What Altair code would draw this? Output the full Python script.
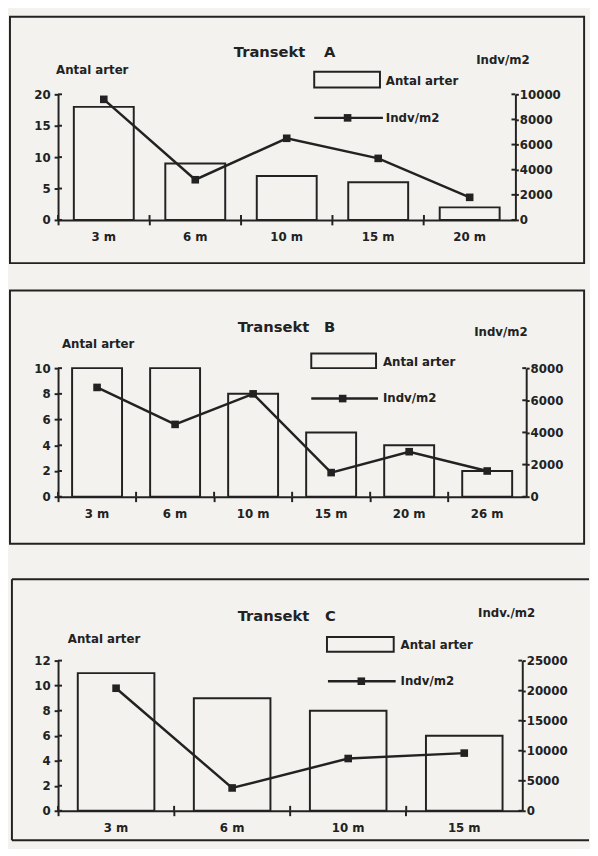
import altair as alt
import pandas as pd

# ---- data ----
cats_a = ["3 m", "6 m", "10 m", "15 m", "20 m"]
arter_a = [18, 9, 7, 6, 2]
indv_a = [9600, 3200, 6500, 4900, 1800]

cats_b = ["3 m", "6 m", "10 m", "15 m", "20 m", "26 m"]
arter_b = [10, 10, 8, 5, 4, 2]
indv_b = [6800, 4500, 6400, 1500, 2800, 1600]

cats_c = ["3 m", "6 m", "10 m", "15 m"]
arter_c = [11, 9, 8, 6]
indv_c = [20400, 3800, 8700, 9600]

# axis tick values
ticks_l_a = [0, 5, 10, 15, 20]
ticks_r_a = [0, 2000, 4000, 6000, 8000, 10000]
ticks_l_b = [0, 2, 4, 6, 8, 10]
ticks_r_b = [0, 2000, 4000, 6000, 8000]
ticks_l_c = [0, 2, 4, 6, 8, 10, 12]
ticks_r_c = [0, 5000, 10000, 15000, 20000, 25000]

FONT = "DejaVu Sans"
INK = "#222222"
BG = "#f3f2ef"

one = pd.DataFrame({"k": [0]})


def txt(s, x, y, size=12, align="left"):
    return alt.Chart(one).mark_text(
        text=s, font=FONT, fontWeight="bold", fontSize=size, color=INK,
        align=align, baseline="middle"
    ).encode(x=alt.value(x), y=alt.value(y))


def axis_style(**kw):
    base = dict(
        title=None, grid=False, domainColor=INK, domainWidth=2, tickColor=INK,
        tickWidth=2, labelFont=FONT, labelFontWeight="bold", labelFontSize=12,
        labelColor=INK, labelOverlap=False,
    )
    base.update(kw)
    return alt.Axis(**base)


def panel(cats, arter, indv, tl, tr, w, h, frac, letter, p):
    df = pd.DataFrame({"cat": cats, "arter": arter, "indv": indv})
    base = alt.Chart(df)
    x_axis = axis_style(labelAngle=0, bandPosition=0, tickSize=5, labelPadding=7)
    x_scale = alt.Scale(paddingInner=0, paddingOuter=0)
    yl_scale = alt.Scale(domain=[0, tl[-1]], nice=False)
    yr_scale = alt.Scale(domain=[0, tr[-1]], nice=False)
    yl_axis = axis_style(orient="left", values=tl, tickSize=4, labelPadding=4)
    yr_axis = axis_style(orient="right", values=tr, format="d", tickSize=3, labelPadding=1)

    bars = base.mark_bar(
        width=alt.RelativeBandSize(frac), fill=BG, stroke=INK, strokeWidth=2
    ).encode(
        x=alt.X("cat:N", sort=cats, scale=x_scale, axis=x_axis),
        y=alt.Y("arter:Q", scale=yl_scale, axis=yl_axis),
    )
    # inner halves of the crossing ticks (left axis and x axis)
    inner_l = alt.Chart(pd.DataFrame({"arter": tl})).mark_rule(
        color=INK, strokeWidth=2
    ).encode(y=alt.Y("arter:Q", scale=yl_scale, axis=yl_axis),
             x=alt.value(0), x2=alt.value(4))
    inner_x = base.mark_rule(color=INK, strokeWidth=2).encode(
        x=alt.X("cat:N", sort=cats, scale=x_scale, axis=x_axis, bandPosition=0),
        y=alt.value(h - 5), y2=alt.value(h),
    )
    left_layer = alt.layer(bars, inner_l, inner_x)

    line = base.mark_line(
        color=INK, strokeWidth=2.5,
        point=alt.OverlayMarkDef(shape="square", filled=True, size=60, color=INK),
    ).encode(
        x=alt.X("cat:N", sort=cats, scale=x_scale, axis=x_axis),
        y=alt.Y("indv:Q", scale=yr_scale, axis=yr_axis),
    )
    inner_r = alt.Chart(pd.DataFrame({"indv": tr})).mark_rule(
        color=INK, strokeWidth=2
    ).encode(y=alt.Y("indv:Q", scale=yr_scale, axis=yr_axis),
             x=alt.value(w - 4), x2=alt.value(w))
    right_layer = alt.layer(line, inner_r)

    bx0, bx1, by0, by1 = p["box"]
    if p.get("open_right"):
        box = [
            alt.Chart(one).mark_rule(color=INK, strokeWidth=2).encode(
                x=alt.value(bx0), x2=alt.value(bx1), y=alt.value(by0)),
            alt.Chart(one).mark_rule(color=INK, strokeWidth=2).encode(
                x=alt.value(bx0), x2=alt.value(bx1), y=alt.value(by1)),
            alt.Chart(one).mark_rule(color=INK, strokeWidth=2).encode(
                x=alt.value(bx0), y=alt.value(by0), y2=alt.value(by1)),
        ]
    else:
        box = [alt.Chart(one).mark_rect(
            fill=BG, fillOpacity=0, stroke=INK, strokeWidth=2
        ).encode(x=alt.value(bx0), x2=alt.value(bx1), y=alt.value(by0), y2=alt.value(by1))]

    lx0, lx1, ly0, ly1 = p["leg_rect"]
    lgx0, lgx1, lgy, lsq = p["leg_line"]
    legend = [
        alt.Chart(one).mark_rect(fill=BG, stroke=INK, strokeWidth=2).encode(
            x=alt.value(lx0), x2=alt.value(lx1), y=alt.value(ly0), y2=alt.value(ly1)),
        alt.Chart(one).mark_rule(color=INK, strokeWidth=2.5).encode(
            x=alt.value(lgx0), x2=alt.value(lgx1), y=alt.value(lgy)),
        alt.Chart(one).mark_point(shape="square", filled=True, size=60, color=INK, opacity=1).encode(
            x=alt.value(lsq), y=alt.value(lgy)),
        txt("Antal  arter", p["leg_text_x"], (ly0 + ly1) / 2 + 1),
        txt("Indv/m2", p["leg_text_x"], lgy),
    ]

    texts = [
        txt("Transekt", p["title"][0], p["title"][2], size=15),
        txt(letter, p["title"][1], p["title"][2], size=15),
        txt("Antal  arter", p["ylab"][0], p["ylab"][1]),
        txt(p["rlab_text"], p["rlab"][0], p["rlab"][1]),
    ]

    return alt.layer(left_layer, right_layer, *box, *legend, *texts).resolve_scale(
        y="independent"
    ).properties(width=w, height=h)


pa = dict(
    box=(-49, 536, -79, 172),
    leg_rect=(261, 328, -23, -7), leg_line=(261, 331, 24, 295), leg_text_x=334,
    title=(179, 271, -43), ylab=(-2, -25), rlab=(426, -35), rlab_text="Indv/m2",
)
pb = dict(
    box=(-49, 536, -79, 179),
    leg_rect=(258, 324, -15, 0), leg_line=(258, 326, 31, 290), leg_text_x=331,
    title=(183, 271, -42), ylab=(4, -25), rlab=(424, -37), rlab_text="Indv/m2",
)
pc = dict(
    box=(-47, 541, -83, 183), open_right=True,
    leg_rect=(274, 342, -24, -9), leg_line=(275, 344, 21, 309), leg_text_x=349,
    title=(183, 272, -45), ylab=(10, -22), rlab=(428, -48), rlab_text="Indv./m2",
)

chart_a = panel(cats_a, arter_a, indv_a, ticks_l_a, ticks_r_a, 466, 128, 0.655, "A", pa)
chart_b = panel(cats_b, arter_b, indv_b, ticks_l_b, ticks_r_b, 477, 131, 0.64, "B", pb)
chart_c = panel(cats_c, arter_c, indv_c, ticks_l_c, ticks_r_c, 473, 153, 0.66, "C", pc)

chart = alt.vconcat(
    chart_a,
    alt.vconcat(chart_b, chart_c, spacing=34),
    spacing=26,
).properties(
    background=BG,
    padding={"left": 1, "top": 0, "right": 0, "bottom": 0},
).configure_view(stroke=None)

chart.save("out.html", embed_options={"renderer": "svg", "actions": False})
